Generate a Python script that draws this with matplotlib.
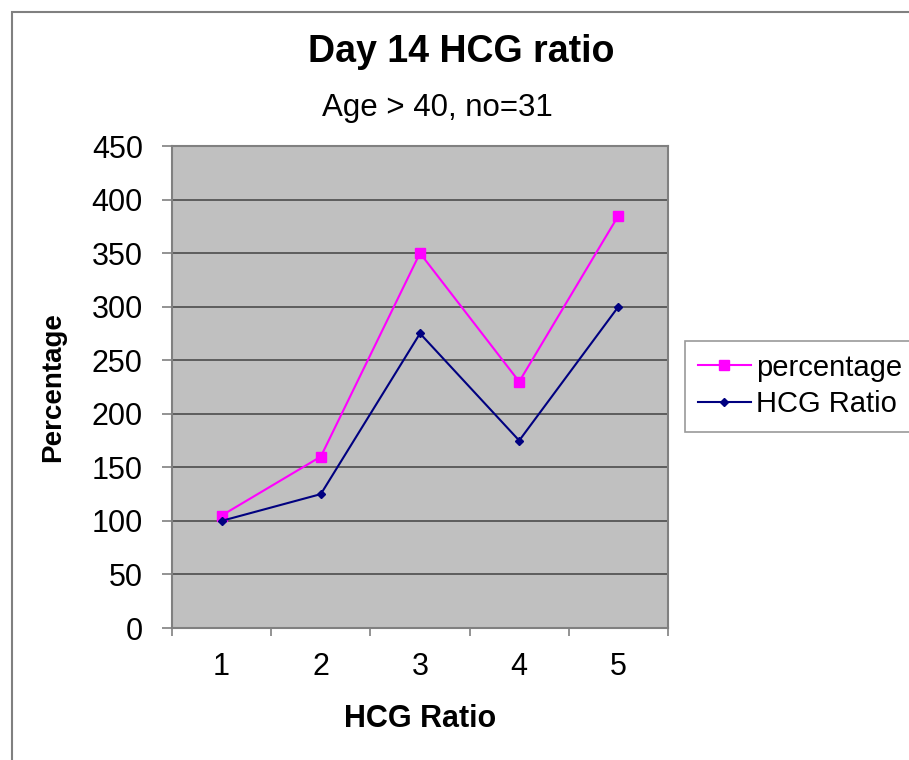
import numpy as np
import matplotlib.pyplot as plt
from matplotlib.patches import Rectangle
from matplotlib.ticker import FixedLocator

# dati
categorie = [1, 2, 3, 4, 5]
percentuale = [105, 160, 350, 230, 385]
hcg_ratio = [100, 125, 275, 175, 300]
etichette_x = ["1", "2", "3", "4", "5"]

plt.rcParams['font.family'] = ['Liberation Sans', 'DejaVu Sans']

fig = plt.figure(figsize=(9.09, 7.6), dpi=100)
ax = fig.add_axes([172 / 909, 1 - 628 / 760, (668 - 172) / 909, (628 - 146) / 760])

# cornice esterna del grafico
fig.patches.append(Rectangle((12 / 909, -0.1), 1.2, 1 - 12 / 760 + 0.1,
                             transform=fig.transFigure, fill=False,
                             edgecolor='#808080', linewidth=1.5))

ax.set_facecolor('#C0C0C0')
for s in ax.spines.values():
    s.set_color('#808080')
    s.set_linewidth(1.5)

ax.plot(categorie, percentuale, color='#FF00FF', linewidth=1.5, marker='s',
        markersize=6.5, label='percentage', zorder=3)
ax.plot(categorie, hcg_ratio, color='#000080', linewidth=1.5, marker='D',
        markersize=4.5, label='HCG Ratio', zorder=3)

ax.set_ylim(0, 450)
ax.set_yticks(np.arange(0, 451, 50))
ax.yaxis.grid(True, color='#555555', linewidth=1.3)
ax.set_axisbelow(True)
ax.tick_params(axis='y', direction='out', length=7, width=1.2, color='#808080',
               pad=14, labelsize=22)

ax.set_xlim(0.5, 5.5)
ax.xaxis.set_major_locator(FixedLocator([0.5, 1.5, 2.5, 3.5, 4.5, 5.5]))
ax.xaxis.set_minor_locator(FixedLocator(categorie))
ax.set_xticklabels([], minor=False)
ax.set_xticklabels(etichette_x, minor=True)
ax.tick_params(axis='x', which='major', direction='out', length=6, width=1.2, color='#808080')
ax.tick_params(axis='x', which='minor', length=0, pad=17, labelsize=22)

ax.set_xlabel("HCG Ratio", fontsize=22, fontweight='bold', labelpad=16)
ax.set_ylabel("Percentage", fontsize=20, fontweight='bold', labelpad=18)

fig.text(461 / 909, 1 - 52 / 760, "Day 14 HCG ratio", fontsize=27, fontweight='bold',
         ha='center', va='center')
fig.text(437 / 909, 1 - 108 / 760, "Age > 40, no=31", fontsize=22.5,
         ha='center', va='center')

leg = ax.legend(loc='center left', bbox_to_anchor=(685 / 909, 1 - 386 / 760),
                bbox_transform=fig.transFigure, fontsize=21, frameon=True,
                fancybox=False, handlelength=1.8, handletextpad=0.2,
                borderpad=0.45, labelspacing=0.3, borderaxespad=0)
leg.get_frame().set_edgecolor('#808080')
leg.get_frame().set_linewidth(1.2)

plt.savefig("out.png", dpi=100)
